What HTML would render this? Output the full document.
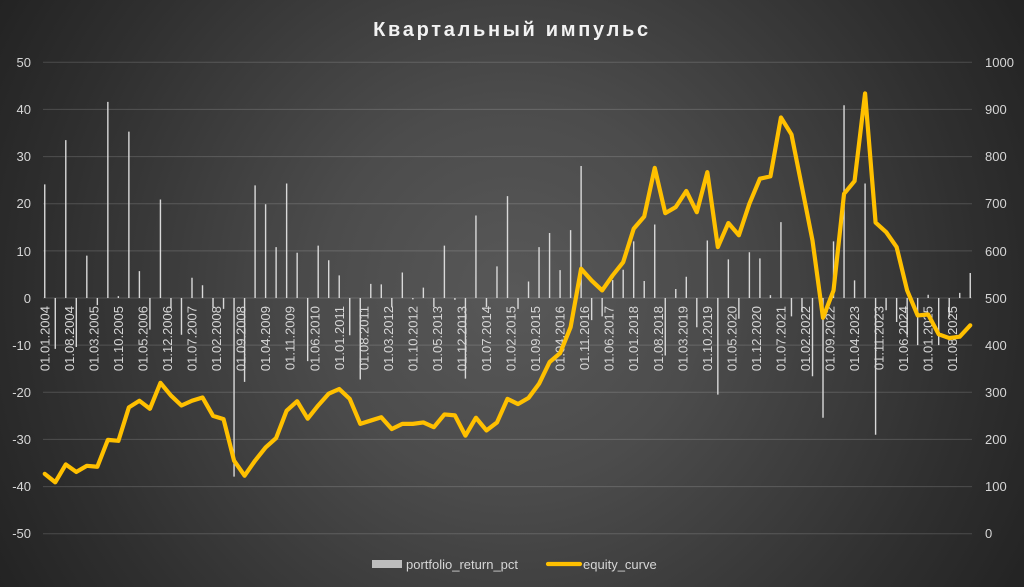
<!DOCTYPE html>
<html><head><meta charset="utf-8"><style>
html,body{margin:0;padding:0;}
body{width:1024px;height:587px;overflow:hidden;background:radial-gradient(circle farthest-corner at 50% 50%, #585858 0%, #4c4c4c 32%, #2f2f2f 78%, #232323 100%);font-family:"Liberation Sans",sans-serif;}
svg{position:absolute;left:0;top:0;}
</style></head><body>
<svg width="1024" height="587" viewBox="0 0 1024 587" xmlns="http://www.w3.org/2000/svg">
<text x="512" y="36" text-anchor="middle" font-family="Liberation Sans, DejaVu Sans, sans-serif" font-weight="bold" font-size="20" letter-spacing="2.7" fill="#f2f2f2">Квартальный импульс</text>
<g stroke="#ffffff" stroke-opacity="0.16" stroke-width="1">
<line x1="43" x2="972" y1="62.3" y2="62.3"/><line x1="43" x2="972" y1="109.4" y2="109.4"/><line x1="43" x2="972" y1="156.6" y2="156.6"/><line x1="43" x2="972" y1="203.7" y2="203.7"/><line x1="43" x2="972" y1="250.9" y2="250.9"/><line x1="43" x2="972" y1="298" y2="298"/><line x1="43" x2="972" y1="345.1" y2="345.1"/><line x1="43" x2="972" y1="392.3" y2="392.3"/><line x1="43" x2="972" y1="439.4" y2="439.4"/><line x1="43" x2="972" y1="486.6" y2="486.6"/><line x1="43" x2="972" y1="533.7" y2="533.7"/>
</g>
<g font-size="13" fill="#d6d6d6" text-anchor="end">
<text x="31" y="67">50</text><text x="31" y="114">40</text><text x="31" y="161">30</text><text x="31" y="208">20</text><text x="31" y="256">10</text><text x="31" y="303">0</text><text x="31" y="350">-10</text><text x="31" y="397">-20</text><text x="31" y="444">-30</text><text x="31" y="491">-40</text><text x="31" y="538">-50</text>
</g>
<g font-size="13" fill="#d6d6d6" text-anchor="start">
<text x="985" y="67">1000</text><text x="985" y="114">900</text><text x="985" y="161">800</text><text x="985" y="208">700</text><text x="985" y="256">600</text><text x="985" y="303">500</text><text x="985" y="350">400</text><text x="985" y="397">300</text><text x="985" y="444">200</text><text x="985" y="491">100</text><text x="985" y="538">0</text>
</g>
<g font-size="13" fill="#d6d6d6" text-anchor="end">
<text transform="translate(49.4,306) rotate(-90)">01.01.2004</text>
<text transform="translate(73.9,306) rotate(-90)">01.08.2004</text>
<text transform="translate(98.4,306) rotate(-90)">01.03.2005</text>
<text transform="translate(123.0,306) rotate(-90)">01.10.2005</text>
<text transform="translate(147.5,306) rotate(-90)">01.05.2006</text>
<text transform="translate(172.0,306) rotate(-90)">01.12.2006</text>
<text transform="translate(196.6,306) rotate(-90)">01.07.2007</text>
<text transform="translate(221.1,306) rotate(-90)">01.02.2008</text>
<text transform="translate(245.7,306) rotate(-90)">01.09.2008</text>
<text transform="translate(270.2,306) rotate(-90)">01.04.2009</text>
<text transform="translate(294.7,306) rotate(-90)">01.11.2009</text>
<text transform="translate(319.3,306) rotate(-90)">01.06.2010</text>
<text transform="translate(343.8,306) rotate(-90)">01.01.2011</text>
<text transform="translate(368.3,306) rotate(-90)">01.08.2011</text>
<text transform="translate(392.9,306) rotate(-90)">01.03.2012</text>
<text transform="translate(417.4,306) rotate(-90)">01.10.2012</text>
<text transform="translate(442.0,306) rotate(-90)">01.05.2013</text>
<text transform="translate(466.5,306) rotate(-90)">01.12.2013</text>
<text transform="translate(491.0,306) rotate(-90)">01.07.2014</text>
<text transform="translate(515.6,306) rotate(-90)">01.02.2015</text>
<text transform="translate(540.1,306) rotate(-90)">01.09.2015</text>
<text transform="translate(564.6,306) rotate(-90)">01.04.2016</text>
<text transform="translate(589.2,306) rotate(-90)">01.11.2016</text>
<text transform="translate(613.7,306) rotate(-90)">01.06.2017</text>
<text transform="translate(638.2,306) rotate(-90)">01.01.2018</text>
<text transform="translate(662.8,306) rotate(-90)">01.08.2018</text>
<text transform="translate(687.3,306) rotate(-90)">01.03.2019</text>
<text transform="translate(711.9,306) rotate(-90)">01.10.2019</text>
<text transform="translate(736.4,306) rotate(-90)">01.05.2020</text>
<text transform="translate(760.9,306) rotate(-90)">01.12.2020</text>
<text transform="translate(785.5,306) rotate(-90)">01.07.2021</text>
<text transform="translate(810.0,306) rotate(-90)">01.02.2022</text>
<text transform="translate(834.5,306) rotate(-90)">01.09.2022</text>
<text transform="translate(859.1,306) rotate(-90)">01.04.2023</text>
<text transform="translate(883.6,306) rotate(-90)">01.11.2023</text>
<text transform="translate(908.2,306) rotate(-90)">01.06.2024</text>
<text transform="translate(932.7,306) rotate(-90)">01.01.2025</text>
<text transform="translate(957.2,306) rotate(-90)">01.08.2025</text>
</g>
<g transform="translate(44.75,298) scale(10.517,-4.714)" stroke="#d9d9d9" stroke-width="1.4" vector-effect="non-scaling-stroke">
<path vector-effect="non-scaling-stroke" fill="none" d="M0 0V24.1M1 0V-10.8M2 0V33.5M3 0V-10.4M4 0V9M5 0V-1.5M6 0V41.6M7 0V0.4M8 0V35.3M9 0V5.7M10 0V-6.7M11 0V20.9M12 0V-2.2M13 0V-7.8M14 0V4.3M15 0V2.7M16 0V-2M17 0V-2.3M18 0V-37.9M19 0V-17.8M20 0V23.9M21 0V19.9M22 0V10.8M23 0V24.3M24 0V9.6M25 0V-13.4M26 0V11.1M27 0V8M28 0V4.8M29 0V-7.9M30 0V-17.3M31 0V3M32 0V2.9M33 0V-2M34 0V5.4M35 0V-0.3M36 0V2.2M37 0V-1.9M38 0V11.1M39 0V-0.4M40 0V-17.1M41 0V17.5M42 0V-1.9M43 0V6.7M44 0V21.6M45 0V-2.3M46 0V3.5M47 0V10.8M48 0V13.8M49 0V5.9M50 0V14.4M51 0V28M52 0V-4.7M53 0V-3.9M54 0V3.8M55 0V6M56 0V12M57 0V3.6M58 0V15.6M59 0V-12.2M60 0V1.9M61 0V4.5M62 0V-6.2M63 0V12.2M64 0V-20.5M65 0V8.2M66 0V-4.4M67 0V9.7M68 0V8.4M69 0V0.6M70 0V16.1M71 0V-3.9M72 0V-3M73 0V-16.6M74 0V-25.4M75 0V12M76 0V40.9M77 0V3.75M78 0V24.3M79 0V-29M80 0V-2.6M81 0V-5.1M82 0V-8M83 0V-10M84 0V0.7M85 0V-10M86 0V-4M87 0V1.1M88 0V5.3"/>
</g>
<g transform="translate(44.75,533.7) scale(10.517,-0.4714)">
<polyline vector-effect="non-scaling-stroke" fill="none" stroke="#ffc000" stroke-width="4.2" stroke-linejoin="round" stroke-linecap="round" points="0,127 1,109 2,147 3,131 4,144 5,142 6,199 7,197 8,268 9,282 10,265 11,320 12,293 13,272 14,282 15,289 16,250 17,243 18,155 19,123 20,155 21,183 22,203 23,261 24,281 25,244 26,272 27,297 28,307 29,286 30,233 31,240 32,247 33,222 34,233 35,233 36,236 37,226 38,253 39,251 40,208 41,246 42,219 43,236 44,286 45,275 46,288 47,318 48,364 49,383 50,438 51,562 52,537 53,516 54,548 55,576 56,647 57,673 58,776 59,680 60,693 61,727 62,682 63,767 64,608 65,659 66,633 67,700 68,753 69,758 70,883 71,847 72,735 73,622 74,458 75,516 76,721 77,748 78,934 79,660 80,640 81,608 82,516 83,463 84,465 85,423 86,415 87,418 88,442"/>
</g>
<rect x="372" y="560" width="30" height="8" fill="#bdbdbd"/>
<text x="406" y="569" font-size="13" fill="#d6d6d6">portfolio_return_pct</text>
<line x1="548" y1="564" x2="580" y2="564" stroke="#ffc000" stroke-width="4.2" stroke-linecap="round"/>
<text x="583" y="569" font-size="13" fill="#d6d6d6">equity_curve</text>
</svg>
</body></html>
